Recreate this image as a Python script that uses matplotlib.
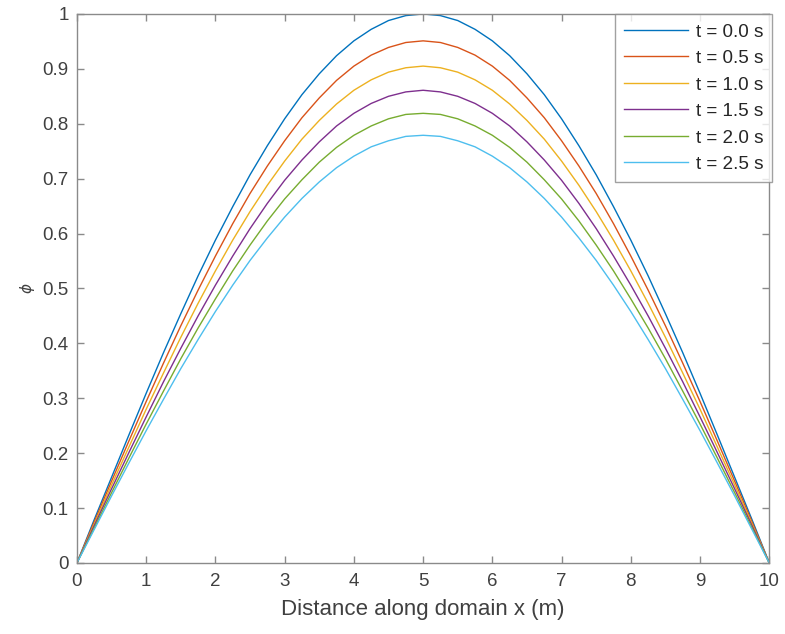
import matplotlib.pyplot as plt
from matplotlib.ticker import FuncFormatter

# values (x step 0.25 m)
x = [0, 0.25, 0.5, 0.75, 1, 1.25, 1.5, 1.75, 2, 2.25, 2.5, 2.75, 3, 3.25, 3.5, 3.75,
     4, 4.25, 4.5, 4.75, 5, 5.25, 5.5, 5.75, 6, 6.25, 6.5, 6.75, 7, 7.25, 7.5, 7.75,
     8, 8.25, 8.5, 8.75, 9, 9.25, 9.5, 9.75, 10]

phi_t00 = [0, .079, .156, .233, .309, .383, .454, .523, .588, .649, .707, .760,
           .809, .853, .891, .924, .951, .972, .988, .997, 1.000,
           .997, .988, .972, .951, .924, .891, .853, .809, .760, .707, .649,
           .588, .523, .454, .383, .309, .233, .156, .079, 0]
phi_t05 = [0, .075, .149, .222, .294, .364, .432, .497, .559, .618, .673, .723,
           .769, .811, .847, .879, .905, .925, .939, .948, .951,
           .948, .939, .925, .905, .879, .847, .811, .769, .723, .673, .618,
           .559, .497, .432, .364, .294, .222, .149, .075, 0]
phi_t10 = [0, .071, .142, .211, .280, .346, .411, .473, .532, .588, .640, .688,
           .732, .772, .806, .836, .861, .880, .894, .902, .905,
           .902, .894, .880, .861, .836, .806, .772, .732, .688, .640, .588,
           .532, .473, .411, .346, .280, .211, .142, .071, 0]
phi_t15 = [0, .068, .135, .201, .266, .330, .391, .450, .506, .559, .609, .655,
           .697, .734, .767, .796, .819, .837, .850, .858, .861,
           .858, .850, .837, .819, .796, .767, .734, .697, .655, .609, .559,
           .506, .450, .391, .330, .266, .201, .135, .068, 0]
phi_t20 = [0, .064, .128, .191, .253, .313, .372, .428, .481, .532, .579, .623,
           .663, .698, .730, .757, .779, .796, .809, .817, .819,
           .817, .809, .796, .779, .757, .730, .698, .663, .623, .579, .532,
           .481, .428, .372, .313, .253, .191, .128, .064, 0]
phi_t25 = [0, .061, .122, .182, .241, .298, .354, .407, .458, .506, .551, .592,
           .630, .664, .694, .720, .741, .758, .769, .777, .779,
           .777, .769, .758, .741, .720, .694, .664, .630, .592, .551, .506,
           .458, .407, .354, .298, .241, .182, .122, .061, 0]

series = [phi_t00, phi_t05, phi_t10, phi_t15, phi_t20, phi_t25]
labels = ["t = 0.0 s", "t = 0.5 s", "t = 1.0 s", "t = 1.5 s", "t = 2.0 s", "t = 2.5 s"]
colors = ["#0072BD", "#D95319", "#EDB120", "#7E2F8E", "#77AC30", "#4DBEEE"]

plt.rcParams['font.family'] = ['Liberation Sans', 'DejaVu Sans']

fig = plt.figure(figsize=(7.85, 6.34), dpi=100)
ax = fig.add_axes([0.098, 0.112, 0.882, 0.866])

for y, lab, c in zip(series, labels, colors):
    ax.plot(x, y, color=c, lw=1.0, label=lab)

ax.set_xlim(0, 10)
ax.set_ylim(0, 1)
ax.set_xticks(range(0, 11))
ax.set_yticks([i / 10 for i in range(11)])
ax.yaxis.set_major_formatter(FuncFormatter(lambda v, p: f"{v:g}"))

axis_col = "#8a8a8a"
text_col = "#404040"
for s in ax.spines.values():
    s.set_color(axis_col)
    s.set_linewidth(1.0)
ax.tick_params(direction='in', top=True, right=True, length=5, width=1.0,
               color=axis_col, labelcolor=text_col, labelsize=13.5, pad=6)
ax.tick_params(axis='x', pad=7)

ax.set_xlabel("Distance along domain x (m)", fontsize=16, color=text_col, labelpad=7)
ax.set_ylabel(r"$\phi$", fontsize=11, color=text_col)

leg = ax.legend(loc='upper right', bbox_to_anchor=(1.004, 0.999), borderaxespad=0,
                fontsize=13.6, frameon=True, fancybox=False, handlelength=3.4,
                labelspacing=0.49, handletextpad=0.42, borderpad=0.47)
leg.get_frame().set_edgecolor(axis_col)
leg.get_frame().set_linewidth(1.0)
for t in leg.get_texts():
    t.set_color("#262626")

fig.savefig("out.png", dpi=100)
